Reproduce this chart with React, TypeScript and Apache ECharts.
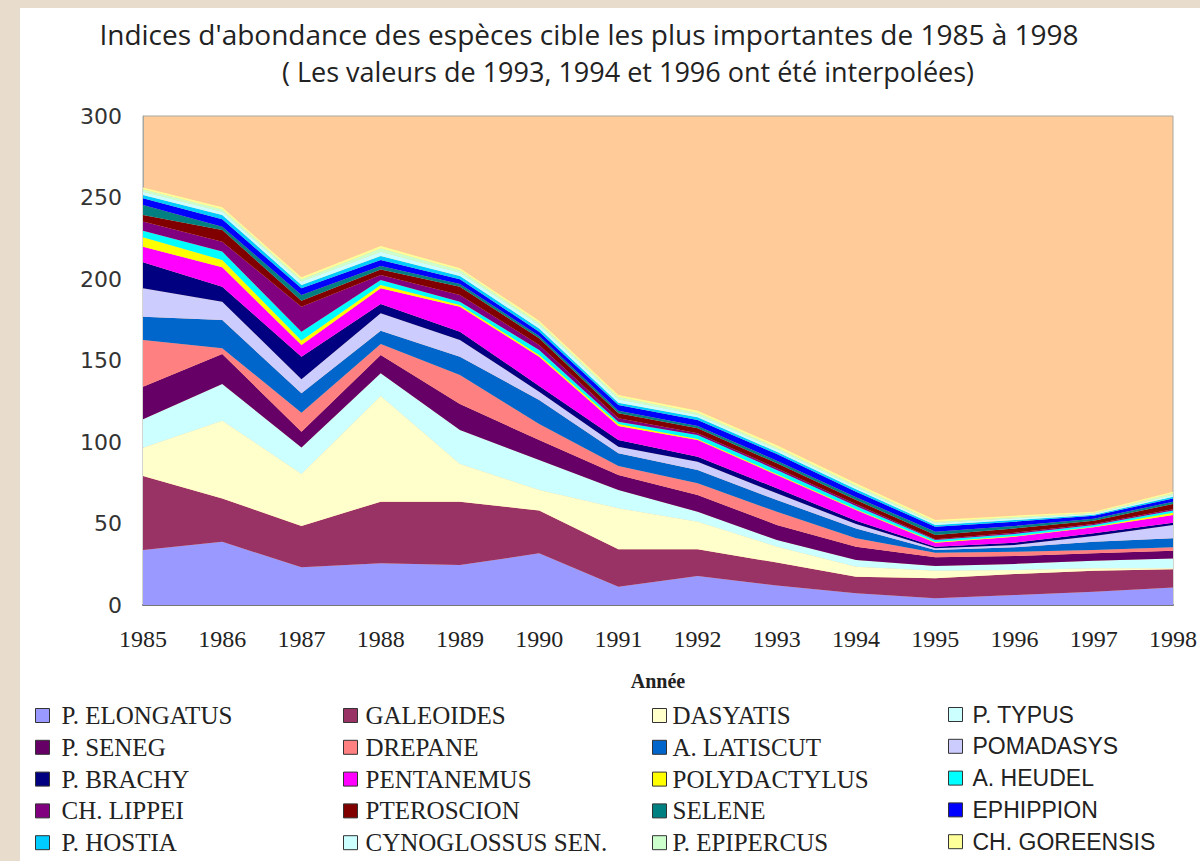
import React, { useEffect, useRef } from "react";
import * as echarts from "echarts";

const years = ["1985","1986","1987","1988","1989","1990","1991","1992","1993","1994","1995","1996","1997","1998"];

const seriesNames = [
  "P. ELONGATUS","GALEOIDES","DASYATIS","P. TYPUS",
  "P. SENEG","DREPANE","A. LATISCUT","POMADASYS",
  "P. BRACHY","PENTANEMUS","POLYDACTYLUS","A. HEUDEL",
  "CH. LIPPEI","PTEROSCION","SELENE","EPHIPPION",
  "P. HOSTIA","CYNOGLOSSUS SEN.","P. EPIPERCUS","CH. GOREENSIS",
];

const seriesColors = [
  "#9999FF","#993366","#FFFFCC","#CCFFFF",
  "#660066","#FF8080","#0066CC","#CCCCFF",
  "#000080","#FF00FF","#FFFF00","#00FFFF",
  "#800080","#800000","#008080","#0000FF",
  "#00CCFF","#CCFFFF","#CCFFCC","#FFFF99",
];

const pElongatus   = [33.7, 38.8, 23.1, 25.6, 24.5, 31.7, 11.2, 17.8, 12.0, 7.2, 4.1, 6.1, 8.2, 10.8];
const galeoides    = [45.4, 26.6, 25.4, 37.8, 38.9, 26.2, 23.0, 16.4, 14.0, 10.2, 12.3, 12.9, 12.8, 11.1];
const dasyatis     = [17.4, 47.7, 31.9, 64.8, 23.1, 12.7, 25.1, 16.9, 9.8, 6.1, 4.6, 2.5, 1.5, 0.6];
const pTypus       = [17.4, 22.5, 16.3, 14.0, 20.9, 18.4, 11.3, 6.1, 4.1, 4.1, 2.9, 3.7, 4.7, 6.1];
const pSeneg       = [20.0, 18.4, 9.6, 11.2, 15.9, 12.2, 9.2, 10.3, 9.2, 8.2, 5.4, 4.8, 4.5, 4.7];
const drepane      = [28.7, 3.5, 11.7, 6.7, 17.8, 9.8, 5.5, 7.2, 8.1, 5.1, 2.8, 2.7, 2.0, 2.1];
const aLatiscut    = [14.3, 17.3, 11.9, 8.2, 11.2, 14.8, 7.8, 8.1, 7.2, 6.1, 1.6, 2.7, 5.1, 5.5];
const pomadasys    = [17.4, 11.2, 8.6, 10.7, 10.3, 5.1, 4.0, 5.1, 4.1, 2.7, 1.1, 1.4, 3.5, 8.2];
const pBrachy      = [15.9, 9.3, 13.8, 5.7, 5.1, 3.5, 4.1, 3.1, 3.1, 2.0, 1.0, 1.4, 1.7, 1.4];
const pentanemus   = [9.6, 11.9, 7.2, 9.6, 15.3, 17.9, 8.6, 10.2, 8.2, 6.6, 2.4, 3.7, 3.7, 4.7];
const polydactylus = [5.8, 4.5, 2.7, 2.0, 1.0, 1.1, 1.2, 0.6, 0.6, 0.4, 0.5, 0.4, 0.3, 1.4];
const aHeudel      = [4.0, 5.1, 5.5, 3.1, 2.0, 3.0, 1.5, 2.5, 2.4, 2.0, 1.2, 1.3, 1.1, 1.3];
const chLippei     = [5.6, 6.1, 15.3, 3.1, 4.2, 3.1, 2.0, 1.0, 1.1, 1.1, 0.4, 0.8, 0.6, 0.8];
const pteroscion   = [4.1, 7.1, 3.7, 3.4, 5.1, 4.1, 3.1, 3.1, 3.0, 2.6, 2.6, 2.6, 2.0, 3.3];
const selene       = [6.1, 2.1, 3.5, 2.1, 1.7, 1.4, 1.6, 1.4, 1.6, 1.7, 2.1, 1.5, 1.2, 1.4];
const ephippion    = [4.1, 4.5, 4.1, 3.7, 2.8, 2.7, 3.5, 3.7, 4.1, 3.4, 3.0, 2.6, 1.9, 2.0];
const pHostia      = [2.0, 2.7, 2.0, 2.4, 2.0, 2.0, 1.4, 1.7, 1.4, 1.5, 1.1, 1.0, 0.6, 1.0];
const cynoglossus  = [2.1, 2.0, 2.1, 2.6, 2.1, 2.1, 2.1, 1.4, 1.5, 1.2, 1.0, 1.1, 0.6, 1.1];
const pEpipercus   = [1.4, 1.5, 1.4, 2.1, 1.6, 1.4, 1.6, 1.4, 1.2, 1.2, 1.0, 0.8, 0.6, 1.0];
const chGoreensis  = [1.2, 1.2, 1.2, 1.4, 1.1, 1.2, 1.0, 1.2, 1.3, 1.3, 1.0, 0.8, 0.6, 1.0];

const seriesValues = [
  pElongatus, galeoides, dasyatis, pTypus,
  pSeneg, drepane, aLatiscut, pomadasys,
  pBrachy, pentanemus, polydactylus, aHeudel,
  chLippei, pteroscion, selene, ephippion,
  pHostia, cynoglossus, pEpipercus, chGoreensis,
];

const yTicks = ["0", "50", "100", "150", "200", "250", "300"];

const titleLine1 = "Indices d'abondance des espèces cible les plus importantes de 1985 à 1998";
const titleLine2 = "( Les valeurs de 1993, 1994 et 1996 ont été interpolées)";
const xAxisName = "Année";

export default function App() {
  const ref = useRef<HTMLDivElement>(null);

  useEffect(() => {
    if (!ref.current) return;
    const chart = echarts.init(ref.current, null, { renderer: "svg" });

    const legendCols = [0, 1, 2, 3].map((c) => seriesNames.filter((_, i) => i % 4 === c));
    const legendX = [35, 343, 652, 948];
    const legendFonts = ["Liberation Serif", "Liberation Serif", "Liberation Serif", "Liberation Sans"];
    const legendSizes = [25, 25, 25, 23];
    const legendPad = [7, 3, 1, 5];
    const legendGap = [6.8, 6.8, 6.8, 8.8];

    const option: any = {
      animation: false,
      backgroundColor: "#E8DDCD",
      color: seriesColors,
      graphic: [
        { type: "rect", shape: { x: 20, y: 8, width: 1180, height: 853 }, style: { fill: "#FFFFFF" }, z: -10 },
        { type: "text", x: 589, y: 34, style: { text: titleLine1, textAlign: "center", textVerticalAlign: "middle", fontFamily: "Open Sans", fontSize: 28, fill: "#222222" } },
        { type: "text", x: 628, y: 71, style: { text: titleLine2, textAlign: "center", textVerticalAlign: "middle", fontFamily: "Open Sans", fontSize: 27, fill: "#222222" } },
      ],
      grid: {
        left: 143, top: 116, right: 22, bottom: 256,
        show: true, backgroundColor: "#FFCC99", borderColor: "#A8A8A0", borderWidth: 1,
      },
      legend: legendCols.map((names, c) => ({
        orient: "vertical",
        left: legendX[c],
        top: 703,
        padding: 0,
        data: names,
        icon: "rect",
        itemWidth: 14,
        itemHeight: 14,
        itemGap: legendGap[c],
        selectedMode: false,
        itemStyle: { borderColor: "#333333", borderWidth: 1 },
        textStyle: { fontFamily: legendFonts[c], fontSize: legendSizes[c], color: "#222222", padding: [0, 0, 0, legendPad[c]] },
      })),
      xAxis: {
        type: "category",
        data: years,
        boundaryGap: false,
        axisLine: { lineStyle: { color: "#777777", width: 2 } },
        axisTick: { show: false },
        axisLabel: { fontFamily: "Liberation Serif", fontSize: 24, color: "#222222", margin: 22 },
        name: xAxisName,
        nameLocation: "middle",
        nameGap: 66,
        nameTextStyle: { fontFamily: "Liberation Serif", fontSize: 20, fontWeight: "bold", color: "#222222" },
      },
      yAxis: {
        type: "value",
        min: 0,
        max: 300,
        interval: 50,
        axisLine: { show: true, lineStyle: { color: "#A8A8A0" } },
        axisTick: { show: false },
        splitLine: { show: false },
        axisLabel: {
          fontFamily: "DejaVu Sans", fontSize: 22, color: "#333333", margin: 21,
          formatter: (v: number) => yTicks[Math.round(v / 50)] ?? String(v),
        },
      },
      series: seriesNames.map((name, i) => ({
        name,
        type: "line",
        stack: "total",
        data: seriesValues[i],
        symbol: "none",
        lineStyle: { width: 0 },
        itemStyle: { color: seriesColors[i] },
        areaStyle: { color: seriesColors[i], opacity: 1 },
      })),
    };

    chart.setOption(option);
    return () => chart.dispose();
  }, []);

  return (
    <div
      ref={ref}
      style={{ position: "absolute", left: 0, top: 0, width: 1200, height: 861 }}
    />
  );
}
